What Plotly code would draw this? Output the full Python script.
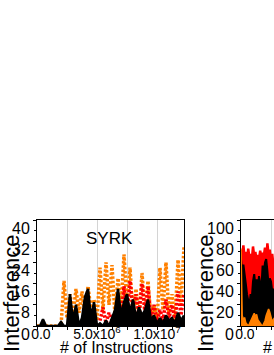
import plotly.graph_objects as go

# ---------------- data (left panel: SYRK) ----------------
x_left = [i * 0.25e6 for i in range(50)]  # 0 .. 12.25e6
orange_left = [0, 0, 0, 0, 0, 0, 0, 0, 0,
               17, 3, 12, 4, 14, 5, 13, 3, 15, 6, 10, 2,
               22, 6, 24, 8, 23, 4, 18, 6, 27, 8, 22, 4, 14, 3, 20, 5, 17, 2, 8, 2,
               22, 6, 24, 4, 12, 2, 25, 8, 30]
red_left = [None] * 21 + [2, 7, 1, 5, 2, 4, 8, 3, 15, 5, 17, 6, 12, 4, 16, 5, 15, 3, 8, 2,
                          6, 2, 10, 3, 8, 2, 13, 4, 12]
black_left = [0, 0, 2.5, 0, 0, 0, 0, 0, 1.5, 0, 0, 12, 2, 8, 0, 3, 11, 14, 3, 9,
              0, 1, 0, 2, 0, 3, 6, 14, 4, 9, 12, 5, 10, 3, 7, 4, 6, 10, 2, 4,
              1, 3, 1, 4, 2, 3, 1, 5, 2, 4]

# ---------------- data (right panel, cut off) ----------------
x_right = [i * 0.1e6 for i in range(29)]
red_right = [72, 66, 76, 64, 70, 60, 73, 65, 68, 62, 75, 66, 70, 61, 67, 63, 71, 64, 69, 66,
             74, 63, 78, 67, 72, 60, 68, 58, 62]
black_right = [63, 50, 58, 45, 40, 30, 22, 19, 30, 26, 42, 49, 38, 44, 36, 47, 40, 35, 57, 50,
               60, 63, 52, 38, 45, 42, 33, 35, 30]
orange_right = [73, 10, 6, 8, 3, 1, 0, 2, 5, 8, 10, 12, 9, 11, 6, 4, 2, 1, 0, 2,
                5, 10, 14, 16, 13, 9, 4, 6, 8]

left_yticks = [0, 8, 16, 24, 32, 40]
right_yticks = [0, 20, 40, 60, 80, 100]
x_tickvals = [0, 2.5e6, 5e6, 7.5e6, 1e7]
x_ticktext = ["\u00a0\u00a00.0", "", "5.0x10<sup>6</sup>", "", "1.0x10<sup>7</sup>"]

ORANGE = "#FF8000"
RED = "#FF0000"
BLACK = "#000000"
FONT = "Liberation Sans, Arial, sans-serif"

fig = go.Figure()

# left panel traces
fig.add_trace(go.Scatter(x=x_left, y=orange_left, mode="lines", xaxis="x", yaxis="y",
                         line=dict(color=ORANGE, width=3.5, dash="2.5px,1.8px"), showlegend=False))
fig.add_trace(go.Scatter(x=x_left, y=red_left, mode="lines", xaxis="x", yaxis="y",
                         line=dict(color=RED, width=3.5, dash="2.5px,1.8px"), showlegend=False))
fig.add_trace(go.Scatter(x=x_left, y=black_left, mode="lines", xaxis="x", yaxis="y",
                         fill="tozeroy", fillcolor=BLACK,
                         line=dict(color=BLACK, width=2.5), showlegend=False))

# right panel traces
fig.add_trace(go.Scatter(x=x_right, y=red_right, mode="lines", xaxis="x2", yaxis="y2",
                         fill="tozeroy", fillcolor=RED,
                         line=dict(color=RED, width=2.5), showlegend=False))
fig.add_trace(go.Scatter(x=x_right, y=black_right, mode="lines", xaxis="x2", yaxis="y2",
                         fill="tozeroy", fillcolor=BLACK,
                         line=dict(color=BLACK, width=2), showlegend=False))
fig.add_trace(go.Scatter(x=x_right, y=orange_right, mode="lines", xaxis="x2", yaxis="y2",
                         fill="tozeroy", fillcolor=ORANGE,
                         line=dict(color=ORANGE, width=1.5), showlegend=False))

W, H = 274, 355
xl0, xl1 = 37 / W, 184 / W
xr0 = 241 / W
yb, yt = (H - 326) / H, (H - 220) / H

common_x = dict(showline=True, linecolor="black", linewidth=1, mirror=True,
                ticks="outside", ticklen=3, tickcolor="black",
                tickvals=x_tickvals, ticktext=x_ticktext,
                showgrid=True, gridcolor="#d4d4d4", gridwidth=1,
                minor=dict(ticks="outside", ticklen=3, dtick=1.25e6, tick0=0, showgrid=False,
                           tickcolor="black"),
                tickfont=dict(family=FONT, size=14, color="black"),
                zeroline=False, tickangle=0, automargin=False, ticklabelstandoff=-8)
common_y = dict(showline=True, linecolor="black", linewidth=1, mirror=True,
                ticks="outside", ticklen=3, tickcolor="black",
                showgrid=False, zeroline=False,
                tickfont=dict(family=FONT, size=16, color="black"),
                ticklabelshift=8, automargin=False)

fig.update_layout(
    width=W, height=H,
    margin=dict(l=0, r=0, t=0, b=0),
    paper_bgcolor="white", plot_bgcolor="white",
    xaxis=dict(domain=[xl0, xl1], anchor="y", range=[0, 1.225e7], **common_x),
    yaxis=dict(domain=[yb, yt], anchor="x", range=[0, 40], tickvals=left_yticks,
               minor=dict(ticks="outside", ticklen=2, dtick=4, tickcolor="black"), **common_y),
    xaxis2=dict(domain=[xr0, 1], anchor="y2", range=[0, 2.75e6], **common_x),
    yaxis2=dict(domain=[yb, yt], anchor="x2", range=[0, 100], tickvals=right_yticks,
                minor=dict(ticks="outside", ticklen=2, dtick=10, tickcolor="black"), **common_y),
    xaxis3=dict(overlaying="x", anchor="y", side="top", range=[0, 1.225e7], ticks="inside",
                ticklen=3, dtick=1.25e6, tick0=0, showticklabels=False, showgrid=False,
                zeroline=False, showline=False, tickcolor="black"),
    yaxis3=dict(overlaying="y", anchor="x", side="right", range=[0, 40], ticks="inside",
                ticklen=3, dtick=4, tick0=0, showticklabels=False, showgrid=False,
                zeroline=False, showline=False, tickcolor="black"),
    xaxis4=dict(overlaying="x2", anchor="y2", side="top", range=[0, 2.75e6], ticks="inside",
                ticklen=3, dtick=1.25e6, tick0=0, showticklabels=False, showgrid=False,
                zeroline=False, showline=False, tickcolor="black"),
)

ann_font_big = dict(family=FONT, size=22, color="black")
ann_font = dict(family=FONT, size=16, color="black")
def ann(text, x, y, font, xanchor="center", angle=0):
    fig.add_annotation(text=text, xref="paper", yref="paper", x=x / W, y=(H - y) / H,
                       xanchor=xanchor, yanchor="middle", textangle=angle,
                       showarrow=False, font=font, borderpad=0)

ann("SYRK", 109, 238, dict(family=FONT, size=17, color="black"))
ann("Interference", 11, 294, ann_font_big, angle=-90)
ann("Interference", 205, 294, ann_font_big, angle=-90)
ann("# of Instructions", 116, 347, ann_font)
ann("# of Instructions", 262, 347, ann_font, xanchor="left")

fig.write_html("out.html", config={"displayModeBar": False},
               post_script="document.body.style.margin='0px';"
               "document.body.style.overflow='hidden';")
